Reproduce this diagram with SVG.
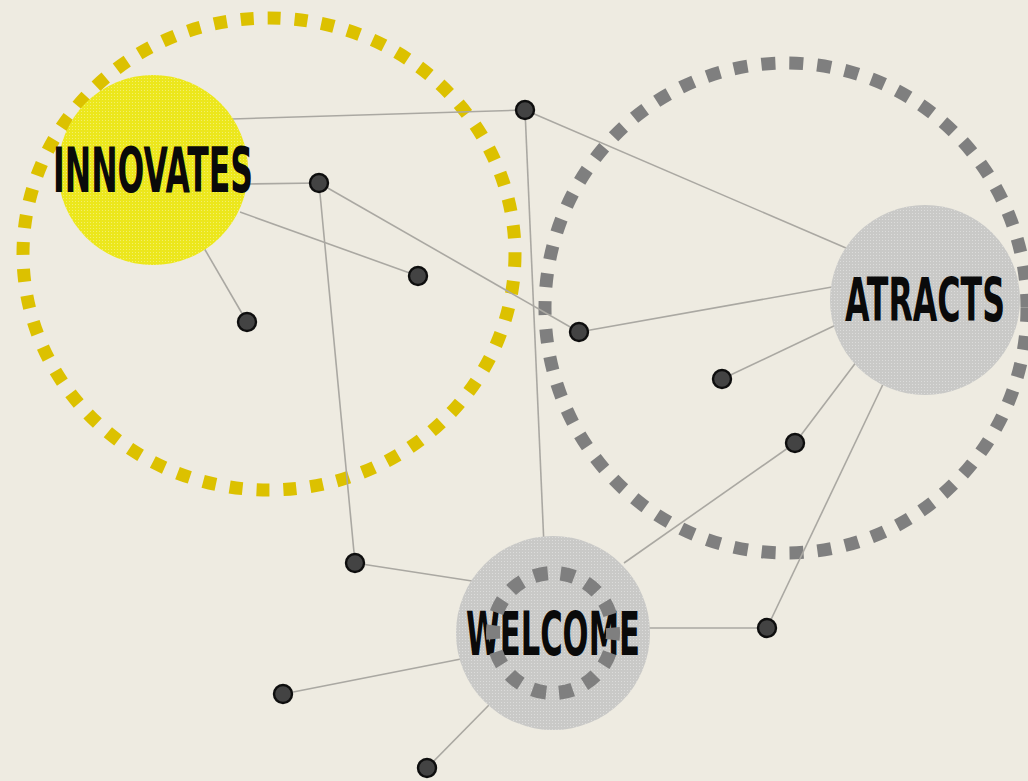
<svg xmlns="http://www.w3.org/2000/svg" width="1028" height="781" viewBox="0 0 1028 781">
  <style>
    .link { stroke: #aaa8a2; stroke-width: 1.6; fill: none; }
    .dot { fill: #434343; stroke: #0e0e0e; stroke-width: 2.4; }
    .ring-y { fill: none; stroke: #dcc100; stroke-width: 13; stroke-dasharray: 13 14; }
    .ring-g { fill: none; stroke: #7f7f7f; stroke-width: 13; stroke-dasharray: 14 14; }
    .label { font-family: "DejaVu Sans Condensed", "Liberation Sans Narrow", "Liberation Sans", sans-serif; font-weight: bold; fill: #0a0a0a; }
  </style>
  <defs>
    <pattern id="grain" width="3" height="3" patternUnits="userSpaceOnUse">
      <rect width="1" height="1" fill="#ffffff" opacity="0.35"/>
    </pattern>
  </defs>

  <rect width="1028" height="781" fill="#eeebe1"/>

  <!-- large dashed rings -->
  <g id="ring-innovates">
    <ellipse class="ring-y" cx="269" cy="254" rx="246" ry="236"/>
  </g>
  <g id="ring-atracts">
    <ellipse class="ring-g" cx="786" cy="308" rx="241" ry="245"/>
  </g>

  <!-- connectors -->
  <g id="connectors">
    <line class="link" x1="232" y1="119" x2="525" y2="110"/>
    <line class="link" x1="525" y1="110" x2="846" y2="248"/>
    <line class="link" x1="525" y1="110" x2="544" y2="546"/>
    <line class="link" x1="248" y1="184" x2="319" y2="183"/>
    <line class="link" x1="319" y1="183" x2="579" y2="332"/>
    <line class="link" x1="319" y1="183" x2="355" y2="563"/>
    <line class="link" x1="240" y1="212" x2="418" y2="276"/>
    <line class="link" x1="204" y1="248" x2="247" y2="322"/>
    <line class="link" x1="579" y1="332" x2="832" y2="287"/>
    <line class="link" x1="722" y1="379" x2="838" y2="324"/>
    <line class="link" x1="857" y1="361" x2="795" y2="443"/>
    <line class="link" x1="795" y1="443" x2="624" y2="563"/>
    <line class="link" x1="885" y1="380" x2="767" y2="628"/>
    <line class="link" x1="767" y1="628" x2="645" y2="628"/>
    <line class="link" x1="355" y1="563" x2="472" y2="581"/>
    <line class="link" x1="283" y1="694" x2="461" y2="659"/>
    <line class="link" x1="427" y1="768" x2="489" y2="705"/>
  </g>

  <!-- main nodes -->
  <g id="node-innovates">
    <circle cx="153" cy="170" r="95" fill="#ece71c"/>
    <circle cx="153" cy="170" r="95" fill="url(#grain)"/>
    <text class="label" x="53" y="192" font-size="62" textLength="200" lengthAdjust="spacingAndGlyphs">INNOVATES</text>
  </g>
  <g id="node-atracts">
    <circle cx="925" cy="300" r="95" fill="#c9c9c7"/>
    <circle cx="925" cy="300" r="95" fill="url(#grain)"/>
    <text class="label" x="845" y="321" font-size="60" textLength="160" lengthAdjust="spacingAndGlyphs">ATRACTS</text>
  </g>
  <g id="node-welcome">
    <circle cx="553" cy="633" r="97" fill="#c9c9c7"/>
    <circle cx="553" cy="633" r="97" fill="url(#grain)"/>
    <text class="label" x="466" y="655" font-size="60" textLength="174" lengthAdjust="spacingAndGlyphs">WELCOME</text>
    <circle cx="553" cy="633" r="60" fill="none" stroke="#7f7f7f" stroke-width="14" stroke-dasharray="14 13" stroke-dashoffset="7"/>
  </g>

  <!-- small nodes -->
  <g id="dot-1"><circle class="dot" cx="525" cy="110" r="9"/></g>
  <g id="dot-2"><circle class="dot" cx="319" cy="183" r="9"/></g>
  <g id="dot-3"><circle class="dot" cx="418" cy="276" r="9"/></g>
  <g id="dot-4"><circle class="dot" cx="247" cy="322" r="9"/></g>
  <g id="dot-5"><circle class="dot" cx="579" cy="332" r="9"/></g>
  <g id="dot-6"><circle class="dot" cx="722" cy="379" r="9"/></g>
  <g id="dot-7"><circle class="dot" cx="795" cy="443" r="9"/></g>
  <g id="dot-8"><circle class="dot" cx="355" cy="563" r="9"/></g>
  <g id="dot-9"><circle class="dot" cx="767" cy="628" r="9"/></g>
  <g id="dot-10"><circle class="dot" cx="283" cy="694" r="9"/></g>
  <g id="dot-11"><circle class="dot" cx="427" cy="768" r="9"/></g>
</svg>
